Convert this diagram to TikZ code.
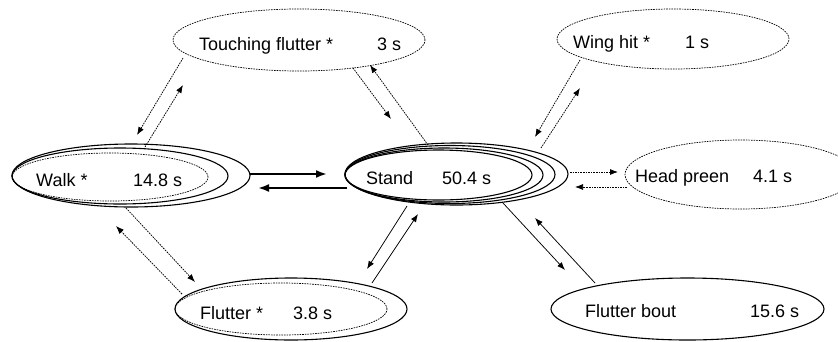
\documentclass[tikz,border=0pt]{standalone}
\usepackage{fontspec}
\setmainfont{Liberation Sans}
\usetikzlibrary{shapes.geometric,arrows.meta}
\begin{document}
\begin{tikzpicture}[x=1pt,y=-1pt,
  oval/.style={ellipse, draw, line width=1.1pt, inner sep=0pt, outer sep=0pt},
  dotoval/.style={oval, line width=0.7pt, dash pattern=on 1.6pt off 1pt},
  lbl/.style={anchor=base west, inner sep=0pt, font=\fontsize{18}{21}\selectfont},
  conn/.style={line width=0.75pt, -{Latex[length=8pt,width=6pt]}},
  dconn/.style={conn, dash pattern=on 1.6pt off 1pt},
  heavy/.style={line width=2pt, -{Latex[length=11pt,width=8pt]}}
]
\useasboundingbox (0,0) rectangle (838,341);

% ellipses
\node[dotoval, minimum width=252pt, minimum height=62pt] (tf) at (299,40) {};
\node[dotoval, minimum width=232pt, minimum height=60pt] (wh) at (673,39) {};
\node[dotoval, minimum width=231pt, minimum height=69pt] (hp) at (740.5,174.5) {};

\node[oval, minimum width=238pt, minimum height=63pt] (walk) at (131,175.5) {};
\node[oval, minimum width=216pt, minimum height=56pt] (walkb) at (120,176) {};
\node[dotoval, minimum width=196pt, minimum height=48pt] (walkc) at (110,177) {};

\node[oval, minimum width=223pt, minimum height=62pt] (stand) at (456.5,174) {};
\node[oval, minimum width=210pt, minimum height=58pt] (standb) at (450,174.5) {};
\node[oval, minimum width=198pt, minimum height=54pt] (standc) at (444,175) {};
\node[oval, minimum width=187pt, minimum height=50pt] (standd) at (438.5,175) {};

\node[oval, minimum width=232pt, minimum height=62pt] (fl) at (291,309) {};
\node[dotoval, minimum width=212pt, minimum height=52pt] (flb) at (281,309) {};

\node[oval, minimum width=273pt, minimum height=62pt] (fb) at (687.5,309) {};

% labels
\node[lbl] (tft) at (199,50) {Touching flutter *};
\node[lbl] (tfs) at (377,50) {3 s};
\node[lbl] (wht) at (573,48) {Wing hit *};
\node[lbl] (whs) at (685,48) {1 s};
\node[lbl] (wkt) at (36,186) {Walk *};
\node[lbl] (wks) at (133,186) {14.8 s};
\node[lbl] (stt) at (366,184.5) {Stand};
\node[lbl] (sts) at (442,184.5) {50.4 s};
\node[lbl] (hpt) at (635,182.5) {Head preen};
\node[lbl] (hps) at (753,182.5) {4.1 s};
\node[lbl] (flt) at (200,319) {Flutter *};
\node[lbl] (fls) at (293,319) {3.8 s};
\node[lbl] (fbt) at (585,317.5) {Flutter bout};
\node[lbl] (fbs) at (750,317.5) {15.6 s};

% connector end points
\coordinate (a0) at (183,58);  \coordinate (a1) at (137,135);
\coordinate (b0) at (145,147); \coordinate (b1) at (183,85);
\coordinate (c0) at (353,68);  \coordinate (c1) at (391,119);
\coordinate (d0) at (428,145); \coordinate (d1) at (370,65);
\coordinate (e0) at (250,174); \coordinate (e1) at (327,174);
\coordinate (f0) at (347,188); \coordinate (f1) at (258,188);
\coordinate (g0) at (126,208); \coordinate (g1) at (195,282);
\coordinate (h0) at (182,294); \coordinate (h1) at (116,226);
\coordinate (i0) at (407,206); \coordinate (i1) at (367,269);
\coordinate (j0) at (372,283); \coordinate (j1) at (418,214);
\coordinate (k0) at (580,60);  \coordinate (k1) at (535,137);
\coordinate (l0) at (541,148); \coordinate (l1) at (580,88);
\coordinate (m0) at (570,172); \coordinate (m1) at (618,172);
\coordinate (n0) at (627,187); \coordinate (n1) at (575,187);
\coordinate (o0) at (503,203); \coordinate (o1) at (565,270);
\coordinate (p0) at (595,283); \coordinate (p1) at (535,218);

% connectors
\draw[dconn] (a0) -- (a1);
\draw[dconn] (b0) -- (b1);
\draw[dconn] (c0) -- (c1);
\draw[dconn] (d0) -- (d1);
\draw[heavy] (e0) -- (e1);
\draw[heavy] (f0) -- (f1);
\draw[dconn] (g0) -- (g1);
\draw[dconn] (h0) -- (h1);
\draw[conn] (i0) -- (i1);
\draw[conn] (j0) -- (j1);
\draw[dconn] (k0) -- (k1);
\draw[dconn] (l0) -- (l1);
\draw[dconn] (m0) -- (m1);
\draw[dconn] (n0) -- (n1);
\draw[conn] (o0) -- (o1);
\draw[conn] (p0) -- (p1);
\end{tikzpicture}
\end{document}
